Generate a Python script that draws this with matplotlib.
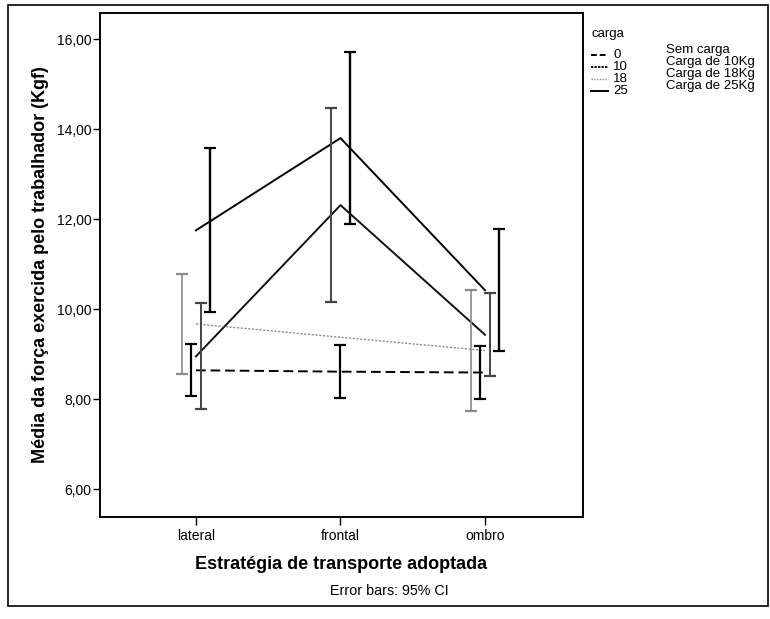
import numpy as np
import matplotlib
matplotlib.use("Agg")
import matplotlib.pyplot as plt
from matplotlib.lines import Line2D
from matplotlib.patches import Rectangle

plt.rcParams['font.family'] = ['Liberation Sans', 'DejaVu Sans']

# data
categories = ["lateral", "frontal", "ombro"]
carga = ["0", "10", "18", "25"]
carga_labels = ["Sem carga", "Carga de 10Kg", "Carga de 18Kg", "Carga de 25Kg"]

mean_0 = [8.64, 8.61, 8.59]
low_0 = [8.07, 8.02, 8.00]
high_0 = [9.22, 9.20, 9.18]

mean_10 = [8.95, 12.31, 9.43]
low_10 = [7.78, 10.16, 8.51]
high_10 = [10.13, 14.47, 10.35]

mean_18 = [9.67, np.nan, 9.08]
low_18 = [8.56, np.nan, 7.73]
high_18 = [10.78, np.nan, 10.43]

mean_25 = [11.75, 13.80, 10.42]
low_25 = [9.93, 11.89, 9.07]
high_25 = [13.58, 15.71, 11.78]

series = {
    "0": (mean_0, low_0, high_0),
    "10": (mean_10, low_10, high_10),
    "18": (mean_18, low_18, high_18),
    "25": (mean_25, low_25, high_25),
}

# styles
line_style = {
    "0": dict(color="black", lw=1.4, ls=(0, (5, 2.5))),
    "10": dict(color="#111111", lw=1.4, ls="-"),
    "18": dict(color="#8a8a8a", lw=1.0, ls=(0, (1.5, 1.2))),
    "25": dict(color="black", lw=1.4, ls="-"),
}
legend_style = {
    "0": dict(color="black", lw=1.4, ls=(0, (3, 1.5))),
    "10": dict(color="#111111", lw=1.4, ls=(0, (1.2, 0.6))),
    "18": dict(color="#8a8a8a", lw=1.0, ls=(0, (1, 1))),
    "25": dict(color="black", lw=1.4, ls="-"),
}
bar_style = {
    "0": dict(color="black", lw=1.6),
    "10": dict(color="#444444", lw=1.4),
    "18": dict(color="#8a8a8a", lw=1.2),
    "25": dict(color="black", lw=1.7),
}
slot = {"18": -1.5, "0": -0.5, "10": 0.5, "25": 1.5}
frontal_slot = {"10": -1.0, "0": 0.0, "25": 1.0}
slot_w = 0.064

W, H = 770, 619
fig = plt.figure(figsize=(W / 100, H / 100), dpi=100)
ax = fig.add_axes([100 / W, 1 - 517 / H, 483 / W, 504 / H])

x = np.arange(1, len(categories) + 1)

for key in carga:
    m, lo, hi = (np.array(v, dtype=float) for v in series[key])
    ok = ~np.isnan(m)
    ax.plot(x[ok], m[ok], **line_style[key], zorder=2)
    for i in range(len(categories)):
        if np.isnan(m[i]):
            continue
        s = frontal_slot[key] if categories[i] == "frontal" else slot[key]
        xi = x[i] + s * slot_w
        ax.errorbar([xi], [m[i]], yerr=[[m[i] - lo[i]], [hi[i] - m[i]]],
                    fmt="none", ecolor=bar_style[key]["color"],
                    elinewidth=bar_style[key]["lw"], capsize=4, capthick=1.6,
                    zorder=3)

ax.set_xlim(0.336, 3.678)
ax.set_ylim(5.38, 16.58)
ax.set_xticks(x)
ax.set_xticklabels(categories, fontsize=10)
yt = [6, 8, 10, 12, 14, 16]
ax.set_yticks(yt)
ax.set_yticklabels([("%.2f" % v).replace(".", ",") for v in yt], fontsize=10)
ax.tick_params(axis="y", length=5, width=1, pad=1)
ax.tick_params(axis="x", length=6, width=1, pad=3)
for sp in ax.spines.values():
    sp.set_linewidth(1.4)

ax.set_ylabel("Média da força exercida pelo trabalhador (Kgf)", fontsize=13,
              fontweight="bold", labelpad=6)
ax.set_xlabel("Estratégia de transporte adoptada", fontsize=13,
              fontweight="bold", labelpad=9)
fig.text(389 / W, 1 - 591 / H, "Error bars: 95% CI", fontsize=10.3,
         ha="center", va="center")

# legend, drawn by hand
fig.text(591 / W, 1 - 34 / H, "carga", fontsize=9.5, ha="left", va="center")
for j, key in enumerate(carga):
    yy = 1 - (55 + 12 * j) / H
    fig.add_artist(Line2D([591 / W, 608 / W], [yy, yy],
                          transform=fig.transFigure, **legend_style[key]))
    fig.text(613 / W, yy, key, fontsize=9.5, ha="left", va="center")
    fig.text(666 / W, 1 - (50 + 12 * j) / H, carga_labels[j], fontsize=9.5,
             ha="left", va="center")

# outer frame
fig.add_artist(Rectangle((8 / W, 1 - 606 / H), 760 / W, 601 / H,
                         transform=fig.transFigure, fill=False,
                         edgecolor="black", lw=1.2))

fig.savefig("out.png", dpi=100)
